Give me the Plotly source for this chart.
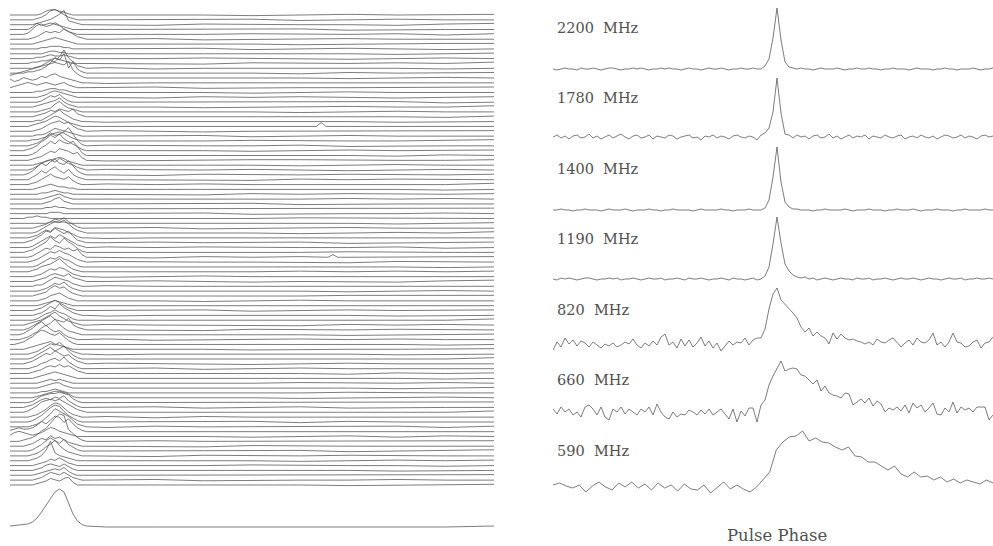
import numpy as np
import plotly.graph_objects as go

W, H = 993, 546

# ---------------------------------------------------------------------------
# Left panel: stack of single pulses.  Each row: heights (px) above the
# row's baseline across the on-pulse window, then coarse off-pulse samples.
# ---------------------------------------------------------------------------
PULSES_ON = [
    [0,0,0,0,0,0,0,1,3,4,4,3,2,1,0,0,0,0],
    [0,0,0,0,0,0,1,2,4,7,8,6,4,2,1,0,0,0],
    [0,0,0,0,0,0,1,2,3,4,6,8,11,3,2,1,0,0],
    [0,0,0,0,0,2,5,3,4,5,4,3,2,1,0,0,0,0],
    [0,0,0,0,1,4,7,8,6,7,9,7,4,2,1,0,0,0],
    [0,0,0,0,0,1,2,4,6,5,6,5,8,6,4,2,1,0],
    [0,0,0,0,0,0,1,2,3,4,5,4,3,2,1,0,0,0],
    [0,0,0,0,0,0,0,1,1,2,2,2,1,1,0,0,0,0],
    [0,0,0,0,0,0,0,0,1,2,2,1,1,0,0,0,0,0],
    [0,0,0,0,0,0,1,1,2,3,2,2,3,2,1,0,0,0],
    [0,0,0,0,0,1,1,2,2,3,4,3,2,1,0,0,0,0],
    [0,0,0,0,0,0,1,2,4,6,5,9,14,8,5,2,1,0],
    [0,0,0,0,1,1,2,3,5,8,12,10,15,4,9,3,1,0],
    [2,3,4,5,6,7,8,9,10,11,12,11,10,13,6,3,1,0],
    [3,1,2,4,3,2,3,5,4,6,7,5,4,3,2,1,0,0],
    [0,1,2,3,4,3,2,3,4,3,2,3,4,2,1,0,0,0],
    [0,0,0,0,0,0,1,1,2,3,3,2,2,1,0,0,0,0],
    [0,0,0,0,0,0,0,1,2,4,5,4,3,2,1,0,0,0],
    [0,0,0,0,0,0,0,1,3,5,4,6,3,1,0,0,0,0],
    [0,0,0,0,0,0,1,2,3,4,5,7,4,2,1,0,0,0],
    [0,0,0,0,0,0,0,1,2,3,6,8,5,3,2,1,0,0],
    [0,0,0,0,0,0,1,2,3,5,4,6,5,4,6,2,1,0],
    [0,0,0,0,0,0,1,1,3,5,7,9,6,4,2,1,0,0],
    [0,0,0,0,0,1,2,3,4,6,8,7,5,3,2,1,0,0],
    [0,0,0,0,0,0,1,2,4,6,7,8,6,7,4,2,1,0],
    [0,0,0,0,0,0,1,1,2,4,6,5,4,3,2,1,0,0],
    [0,0,0,0,0,1,1,2,3,5,6,7,6,4,2,1,0,0],
    [0,0,0,0,0,1,2,4,7,10,8,9,11,14,9,4,1,0],
    [0,0,0,0,1,2,4,7,9,12,10,13,9,7,5,3,1,0],
    [0,0,0,0,0,1,3,6,8,11,9,12,10,9,11,7,2,0],
    [0,0,0,0,0,1,2,3,5,7,6,9,8,7,5,6,2,0],
    [0,0,0,0,0,0,1,2,3,4,5,6,5,3,2,1,0,0],
    [0,0,0,0,0,1,3,5,7,8,6,9,7,5,4,2,1,0],
    [0,0,0,0,1,3,6,9,7,10,12,9,8,11,7,3,1,0],
    [0,0,0,0,0,2,4,7,5,8,10,7,5,8,4,2,1,0],
    [0,0,0,0,0,1,2,4,6,8,6,5,4,6,3,1,0,0],
    [0,0,0,0,0,0,1,2,3,4,3,2,2,1,1,0,0,0],
    [0,0,0,0,0,0,0,1,1,2,3,2,1,1,0,0,0,0],
    [0,0,0,0,0,0,0,0,1,2,3,4,2,1,0,0,0,0],
    [0,0,0,0,0,0,0,0,1,2,4,5,2,1,0,0,0,0],
    [0,0,0,0,0,0,0,0,1,1,2,1,1,0,0,0,0,0],
    [0,0,0,0,0,0,0,0,0,1,1,1,0,0,0,0,0,0],
    [0,0,0,0,1,1,2,1,1,0,0,0,0,0,0,0,0,0],
    [0,0,0,0,0,0,0,0,0,1,1,1,1,0,0,0,0,0],
    [0,0,0,0,0,0,1,2,3,5,7,6,8,5,3,1,0,0],
    [0,0,0,0,0,0,1,3,5,7,9,8,10,7,4,2,1,0],
    [0,0,0,0,0,1,2,4,6,5,8,7,6,4,3,1,0,0],
    [0,0,0,0,1,2,4,6,9,8,11,9,7,9,5,2,1,0],
    [0,0,0,0,0,1,3,5,7,9,7,10,8,6,4,2,1,0],
    [0,0,0,0,1,2,4,6,8,12,9,7,11,8,6,3,1,0],
    [0,0,0,0,0,1,3,5,7,6,9,8,6,7,5,6,2,0],
    [0,0,0,0,0,1,2,4,6,8,7,9,7,6,4,2,1,0],
    [0,0,0,0,0,0,1,3,5,7,6,8,6,5,3,1,0,0],
    [0,0,0,0,0,1,2,4,5,6,8,10,7,4,2,1,0,0],
    [0,0,0,0,0,0,1,2,4,6,5,7,6,4,2,1,0,0],
    [0,0,0,0,0,0,1,2,3,5,6,5,4,6,3,2,1,0],
    [0,0,0,0,0,0,1,1,3,5,7,6,5,4,2,1,0,0],
    [0,0,0,0,0,0,0,1,2,4,6,5,7,4,2,1,0,0],
    [0,0,0,0,0,0,1,2,3,6,8,6,7,4,2,1,0,0],
    [0,0,0,0,0,0,0,1,2,4,5,6,4,2,1,0,0,0],
    [0,0,0,0,0,0,0,1,2,3,4,3,2,1,0,0,0,0],
    [0,0,0,0,0,0,1,2,4,6,8,6,4,2,1,0,0,0],
    [0,0,0,0,0,0,1,2,4,7,5,9,6,4,2,1,0,0],
    [0,0,0,0,0,0,1,3,5,6,8,6,5,3,1,0,0,0],
    [0,0,0,0,1,2,3,4,6,8,10,7,5,3,2,1,0,0],
    [0,0,0,0,1,3,5,7,9,11,8,7,6,9,4,2,1,0],
    [0,0,0,1,3,5,8,10,7,9,12,8,5,3,2,1,0,0],
    [0,0,0,1,2,4,6,9,11,8,6,7,4,2,1,0,0,0],
    [0,0,1,2,4,6,9,11,10,8,7,9,6,3,1,0,0,0],
    [0,0,0,0,1,2,3,4,5,6,4,3,2,1,0,0,0,0],
    [0,0,0,0,0,1,2,4,6,8,7,9,6,4,2,1,0,0],
    [0,0,0,0,0,1,3,5,7,9,6,8,10,6,3,1,0,0],
    [0,0,0,0,1,2,4,6,8,7,10,8,6,7,4,2,1,0],
    [0,0,0,0,0,1,2,4,5,7,8,6,9,5,3,1,0,0],
    [0,0,0,0,0,1,2,3,5,6,5,7,5,6,4,2,1,0],
    [0,0,0,0,0,0,1,2,3,4,5,4,3,2,1,0,0,0],
    [0,0,0,0,0,0,0,1,2,3,2,3,2,1,0,0,0,0],
    [0,0,0,0,0,0,0,1,2,3,4,4,2,1,0,0,0,0],
    [0,0,0,0,0,0,0,1,1,2,3,2,1,0,0,0,0,0],
    [0,0,0,0,0,0,1,2,3,4,5,5,4,3,1,0,0,0],
    [0,0,0,0,0,1,3,5,6,7,7,8,7,6,3,1,0,0],
    [0,0,0,0,1,2,4,6,7,6,8,7,9,5,3,1,0,0],
    [0,0,0,0,1,3,5,8,9,10,9,10,8,6,4,2,1,0],
    [0,0,0,0,0,1,2,4,6,9,11,10,7,4,2,1,0,0],
    [0,0,0,0,0,1,3,5,8,11,13,12,8,5,3,1,0,0],
    [0,0,0,0,0,1,2,4,7,10,14,12,10,8,5,2,1,0],
    [1,2,3,2,2,3,5,8,6,9,12,11,7,10,6,3,1,0],
    [1,3,4,3,2,1,2,3,5,7,6,4,3,2,1,0,0,0],
    [0,0,0,1,2,3,5,8,10,14,18,21,20,9,6,3,1,0],
    [0,0,0,0,1,2,4,6,5,8,6,7,5,3,2,1,0,0],
    [0,0,0,0,0,1,3,5,8,10,8,6,9,5,3,1,0,0],
    [0,0,0,0,0,1,2,4,7,9,12,8,5,3,2,1,0,0],
    [0,0,0,0,0,1,2,4,8,15,6,4,3,2,1,0,0,0],
    [0,0,0,0,0,0,1,2,3,5,4,6,4,2,1,0,0,0],
    [0,0,0,0,0,0,1,2,4,5,4,3,5,3,1,0,0,0],
    [0,0,0,0,0,0,1,2,3,4,5,4,6,3,1,0,0,0],
    [0,0,0,0,0,0,1,2,4,6,5,4,6,4,2,1,0,0],
    [0,0,0,0,0,0,1,2,3,5,4,3,5,6,2,0,0,0],
]

PULSES_OFF = [
    [0,0.5,0,-0.5,0,0.5,0,0,0.5],
    [0.5,0,0,0.5,-0.5,0,0.5,0,0],
    [0,-0.5,0.5,0,0,0,-0.5,0.5,1],
    [0,0,0.5,0,0.5,-0.5,0,0,0],
    [-0.5,0,0,0.5,0,0,0.5,-0.5,0.5],
    [0,0.5,-0.5,0,0,0.5,0,0,0],
    [0.5,0,0,0,-0.5,0,0,0.5,0.5],
    [0,0,0.5,-0.5,0,0.5,0,-0.5,0],
    [0,0.5,0,0,0.5,0,-0.5,0,0.5],
    [-0.5,0,0.5,0,0,-0.5,0,0.5,0],
    [0,0,-0.5,0.5,0,0,0.5,0,1],
    [0.5,-0.5,0,0,0.5,0,0,-0.5,0],
    [0,0,0.5,0,-0.5,0.5,0,0,0.5],
    [0,0.5,0,0.5,0,-0.5,0,0.5,0],
    [-0.5,0,0,0,0.5,0,0.5,0,0],
    [0,0.5,-0.5,0,0,0,0,0.5,0.5],
    [0.5,0,0,-0.5,0,0.5,0,0,0],
    [0,-0.5,0.5,0,0.5,0,-0.5,0,0.5],
    [0,0,0,0.5,0,0,0.5,-0.5,0],
    [0.5,0,-0.5,0,0,0.5,0,0,1],
    [0,0.5,0,0,-0.5,0,0.5,0,0],
    [0,0,0.5,0,0,0.5,0,-0.5,0.5],
    [-0.5,0,0,0.5,0,0,-0.5,0,0],
    [0,0.5,0,0,0.5,0,0,0.5,0],
    [0.5,0,-0.5,0,0,0,0.5,0,0.5],
    [0,0,0.5,-0.5,0,0.5,0,0,0],
    [0,-0.5,0,0.5,0,0,0,0.5,1],
    [0.5,0,0,0,0.5,-0.5,0,0,0],
    [0,0.5,0,-0.5,0,0.5,0,0,0.5],
    [0,0,0.5,0,0,0,-0.5,0.5,0],
    [-0.5,0,0,0.5,0.5,0,0,0,0.5],
    [0,0.5,0,0,-0.5,0,0.5,0,0],
    [0.5,0,0,0.5,0,-0.5,0,0.5,0],
    [0,-0.5,0.5,0,0,0.5,0,0,0.5],
    [0,0,0,-0.5,0.5,0,0.5,0,0],
    [0.5,0,0.5,0,0,0,-0.5,0,1],
    [0,0.5,0,0,0.5,0,0,-0.5,0],
    [0,0,-0.5,0.5,0,0.5,0,0,0.5],
    [-0.5,0,0,0,0,0.5,0,0.5,0],
    [0,0.5,0,0.5,-0.5,0,0,0,0],
    [0.5,0,0,0,0.5,0,0.5,0,0.5],
    [0,0,0.5,-0.5,0,0,0,0.5,0],
    [0,-0.5,0,0,0.5,0.5,0,0,0],
    [0.5,0,0,0.5,0,0,-0.5,0,0.5],
    [0,0.5,-0.5,0,0,0.5,0,0,0],
    [0,0,0.5,0,-0.5,0,0.5,0,1],
    [-0.5,0,0,0.5,0,0,0,0.5,0],
    [0,0.5,0,0,0.5,-0.5,0,0,0.5],
    [0.5,0,0.5,0,0,0,0.5,-0.5,0],
    [0,0,0,-0.5,0,0.5,0,0,0],
    [0,-0.5,0.5,0,0.5,0,0,0.5,0.5],
    [0.5,0,0,0,0,-0.5,0.5,0,0],
    [0,0.5,0,0.5,0,0,0,-0.5,0],
    [0,0,-0.5,0,0.5,0,0.5,0,0.5],
    [-0.5,0,0.5,0,0,0.5,0,0,0],
    [0,0.5,0,-0.5,0,0,-0.5,0.5,1],
    [0.5,0,0,0,0.5,0,0,0,0],
    [0,0,0.5,0.5,0,-0.5,0,0.5,0],
    [0,-0.5,0,0,0,0.5,0.5,0,0.5],
    [0.5,0,-0.5,0,0.5,0,0,-0.5,0],
    [0,0.5,0,0,0,0,0.5,0,0],
    [0,0,0.5,-0.5,0,0.5,0,0.5,0.5],
    [-0.5,0,0,0.5,0,0,-0.5,0,0],
    [0,0.5,0,0,0.5,0,0,0,1],
    [0.5,0,0,0,-0.5,0.5,0,0.5,0],
    [0,0,-0.5,0.5,0,0,0.5,0,0],
    [0,0.5,0,0,0,-0.5,0,0,0.5],
    [0.5,-0.5,0,0,0.5,0,0.5,0,0],
    [0,0,0.5,0,0,0.5,0,-0.5,0],
    [0,0.5,0,-0.5,0,0,0,0.5,0.5],
    [-0.5,0,0,0.5,0.5,0,-0.5,0,0],
    [0,0,0.5,0,0,0,0.5,0,1],
    [0.5,0,0,-0.5,0,0.5,0,0,0],
    [0,0.5,-0.5,0,0.5,0,0,0.5,0],
    [0,0,0,0.5,0,-0.5,0.5,0,0.5],
    [0.5,0,0.5,0,0,0,0,-0.5,0],
    [0,-0.5,0,0,0.5,0,0,0.5,0],
    [0,0.5,0,0.5,0,0,-0.5,0,0.5],
    [-0.5,0,0,0,0,0.5,0,0,0],
    [0,0,0.5,0,-0.5,0,0.5,0.5,0],
    [0.5,0,0,0.5,0,0,0,0,0.5],
    [0,0.5,-0.5,0,0.5,-0.5,0,0,0],
    [0,0,0,0,0,0.5,0.5,0,1],
    [0.5,-0.5,0.5,0,0,0,0,0.5,0],
    [0,0,0,0.5,-0.5,0.5,0,0,0],
    [-0.5,0.5,0,0,0,0,0.5,-0.5,0.5],
    [0,0,0.5,0,0.5,0,0,0,0],
    [0.5,0,0,-0.5,0,0.5,-0.5,0.5,0],
    [0,0.5,0,0,0,0,0.5,0,0.5],
    [0,0,-0.5,0.5,0,0,0,0,0],
    [0.5,0,0,0,0.5,-0.5,0,0.5,1],
    [0,-0.5,0.5,0,0,0.5,0,0,0],
    [0,0.5,0,0,-0.5,0,0.5,0,0.5],
    [-0.5,0,0,0.5,0,0,0,-0.5,0],
    [0,0,0.5,0,0.5,0,-0.5,0,0],
    [0.5,0,0,0,0,0.5,0,0.5,0.5],
    [0,0.5,-0.5,0,0,0,0.5,0,0],
    [0,0,0,0.5,0,-0.5,0,0,0.5],
]

# isolated off-pulse bursts: (pulse index, phase, height px)
BURSTS = [(23, 0.643, 3.0), (50, 0.667, 2.0)]

# integrated profile underneath the stack
PROFILE_ON = [1,1.5,2,2.5,3,5,9,15,22,28,35,38,35,24,13,6,2.5,1]
PROFILE_OFF = [0,0,0,0,0,0.5,0,0,1]

# ---------------------------------------------------------------------------
# Right panel: average profiles at seven frequencies (px above baseline)
# ---------------------------------------------------------------------------
FREQ_LABELS = ["2200 MHz", "1780 MHz", "1400 MHz", "1190 MHz",
               "820 MHz", "660 MHz", "590 MHz"]

PROF_2200 = [0,-1,0,1,0,0,-1,1,0,0,1,0,-1,0,1,1,0,-1,0,0,1,0,1,0,-1,0,0,1,0,1,
             0,0,-1,0,1,0,0,-1,0,1,0,0,1,0,-1,0,0,1,0,0,1,0,0,
             3,10,31,61,29,7,2,1,
             0,1,0,0,-1,0,1,0,0,0,1,0,-1,0,0,1,0,0,1,0,0,-1,0,0,1,0,0,0,-1,0,
             1,0,0,0,-1,0,0,1,0,0,-1,0,0,0,1,0,-1,0,0,1]
PROF_1780 = [0,2,-1,1,-2,1,2,-1,0,3,-1,1,-2,0,2,-1,1,3,0,-2,1,2,-1,0,2,-2,1,0,-1,2,
             1,-2,0,1,2,-1,0,-3,1,0,2,-1,1,0,-2,1,2,0,-1,1,0,-3,2,
             4,9,25,59,24,3,2,-1,
             2,0,1,-2,1,2,-1,0,3,-1,1,-2,0,2,-1,1,0,2,-2,1,0,-1,2,0,-1,1,2,-2,0,1,
             -1,2,0,-1,1,-2,0,2,1,-1,0,2,-1,1,0,-2,1,2,0,1]
PROF_1400 = [0,0,1,0,0,-1,0,0,1,0,0,0,-1,0,1,0,0,0,1,0,-1,0,0,0,1,0,0,-1,0,0,
             1,0,0,0,0,-1,0,1,0,0,0,0,1,0,0,-1,0,0,0,1,0,0,0,
             2,10,33,63,28,8,3,1,
             1,0,0,0,-1,0,0,1,0,0,0,0,1,0,-1,0,0,0,1,0,0,0,-1,0,0,1,0,0,0,1,
             0,-1,0,0,0,1,0,0,0,-1,0,0,1,0,0,0,0,1,0,0]
PROF_1190 = [0,-1,1,0,1,0,-1,0,1,1,0,-1,0,0,1,0,1,-1,0,0,1,0,-1,0,1,0,0,1,-1,0,
             0,1,0,-1,1,0,0,1,0,-1,0,0,1,0,-1,1,0,0,-1,0,1,-1,0,
             3,12,35,62,36,15,8,4,
             2,1,2,0,1,-1,0,1,0,-1,0,1,0,0,-1,1,0,0,1,-1,0,0,1,0,-1,0,1,0,0,1,
             0,-1,0,1,0,0,-1,0,1,0,0,1,-1,0,0,1,0,0,1,0]
PROF_820 = [-6,2,-3,6,0,4,-2,3,1,-3, 2,-1,-4,0,-2,1,-3,-1,2,0,
            5,-1,-4,1,-2,3,-1,7,10,-1, 2,-4,5,-2,4,-3,1,7,-2,3,
            -4,1,-7,-2,3,-1,2,1,6,-1, 4,6,
            6,15,35,50,56,44,40,35,31,26,17,12,16,8,12,8,6,0,11,5,10,6,4,5,3,2,0,2,
            -1,5,2,1,4,6,1,-3,1,4,-1,6,2,1,4,11,-1,2,-3,2,11,2,1,-3,-2,2,4,-4,1,2,7]
PROF_660 = [4,-1,6,1,4,-2,1,-4,6,8, 4,-2,6,-4,-7,4,1,6,-1,4,
            1,-2,4,1,6,-2,9,1,-4,-6, 1,-4,-1,-2,3,1,-2,3,-1,4,
            -2,1,4,-1,-6,4,-9,2,-3,5, 5,-9,
            8,13,28,37,44,52,42,44,45,44,38,37,33,29,33,22,27,20,18,17,15,20,19,8,11,
            14,10,15,7,12,9,1,5,3,6,2,8,0,10,5,8,1,5,10,-1,-2,5,1,11,0,6,3,5,1,6,6,6,-7,-2]
PROF_590 = [1,3,0,-2,1,-6,0,4,-1,-4,3,-1,4,-2,2,-4,3,-2,1,-5,2,-3,-4,1,-7,-1,4,-3,
            1,-3,-6,-1,6,14,36,44,49,50,55,45,48,44,43,39,36,39,30,29,24,24,20,16,
            20,12,9,14,9,10,6,9,4,7,3,6,4,2,6,3]
PROFILES = [PROF_2200, PROF_1780, PROF_1400, PROF_1190, PROF_820, PROF_660, PROF_590]

# ---------------------------------------------------------------------------
fig = go.Figure()
ink = dict(color="#505050", width=0.75)

on_x = np.arange(len(PULSES_ON[0])) * 0.0093
off_x = np.linspace(0.2, 1.0, len(PULSES_OFF[0]))
stack_top, stack_gap = H - 15, 4.845
pulse_gain = 1.3   # vertical scale of the single-pulse stack

for k, (on, off) in enumerate(zip(PULSES_ON, PULSES_OFF)):
    xs = list(on_x) + list(off_x)
    ys = list(on) + list(off)
    for idx, ph, amp in BURSTS:
        if idx == k:
            xs += [ph - 0.01, ph, ph + 0.01]
            ys += [0, amp, 0]
    order = np.argsort(xs)
    base = stack_top - stack_gap * k
    fig.add_trace(go.Scatter(
        x=np.array(xs)[order],
        y=base + pulse_gain * np.array(ys, dtype=float)[order],
        mode="lines", line=ink, xaxis="x", yaxis="y", hoverinfo="skip"))

fig.add_trace(go.Scatter(
    x=np.concatenate([on_x, off_x]),
    y=(H - 527) + np.array(PROFILE_ON + PROFILE_OFF, dtype=float),
    mode="lines", line=ink, xaxis="x", yaxis="y", hoverinfo="skip"))

baselines_px = [69, 137, 210, 279, 344, 413, 486]
labels_px = [28, 98, 169, 239, 310, 380, 451]
label_font = dict(family="DejaVu Serif", size=14.5, color="#505050")

for prof, b, lab, lp in zip(PROFILES, baselines_px, FREQ_LABELS, labels_px):
    xs = np.linspace(0, 1, len(prof))
    fig.add_trace(go.Scatter(
        x=xs, y=(H - b) + np.array(prof, dtype=float),
        mode="lines", line=ink, xaxis="x2", yaxis="y2", hoverinfo="skip"))
    fig.add_annotation(
        x=0.004, y=H - lp, xref="x2", yref="y2", text=lab.replace(" ", " \u00a0"),
        showarrow=False, xanchor="left", yanchor="middle", font=label_font)

fig.add_annotation(
    x=0.509, y=H - 535, xref="x2", yref="y2", text="Pulse Phase",
    showarrow=False, xanchor="center", yanchor="middle",
    font=dict(family="DejaVu Serif", size=16.5, color="#505050"))

hidden = dict(visible=False, showgrid=False, zeroline=False, fixedrange=True)
fig.update_layout(
    width=W, height=H, margin=dict(l=0, r=0, t=0, b=0),
    paper_bgcolor="white", plot_bgcolor="white", showlegend=False,
    xaxis=dict(domain=[10 / W, 494 / W], range=[0, 1], **hidden),
    yaxis=dict(domain=[0, 1], range=[0, H], **hidden),
    xaxis2=dict(domain=[553 / W, 1], range=[0, 1], anchor="y2", **hidden),
    yaxis2=dict(domain=[0, 1], range=[0, H], anchor="x2", **hidden),
)

fig.write_html("out.html")
